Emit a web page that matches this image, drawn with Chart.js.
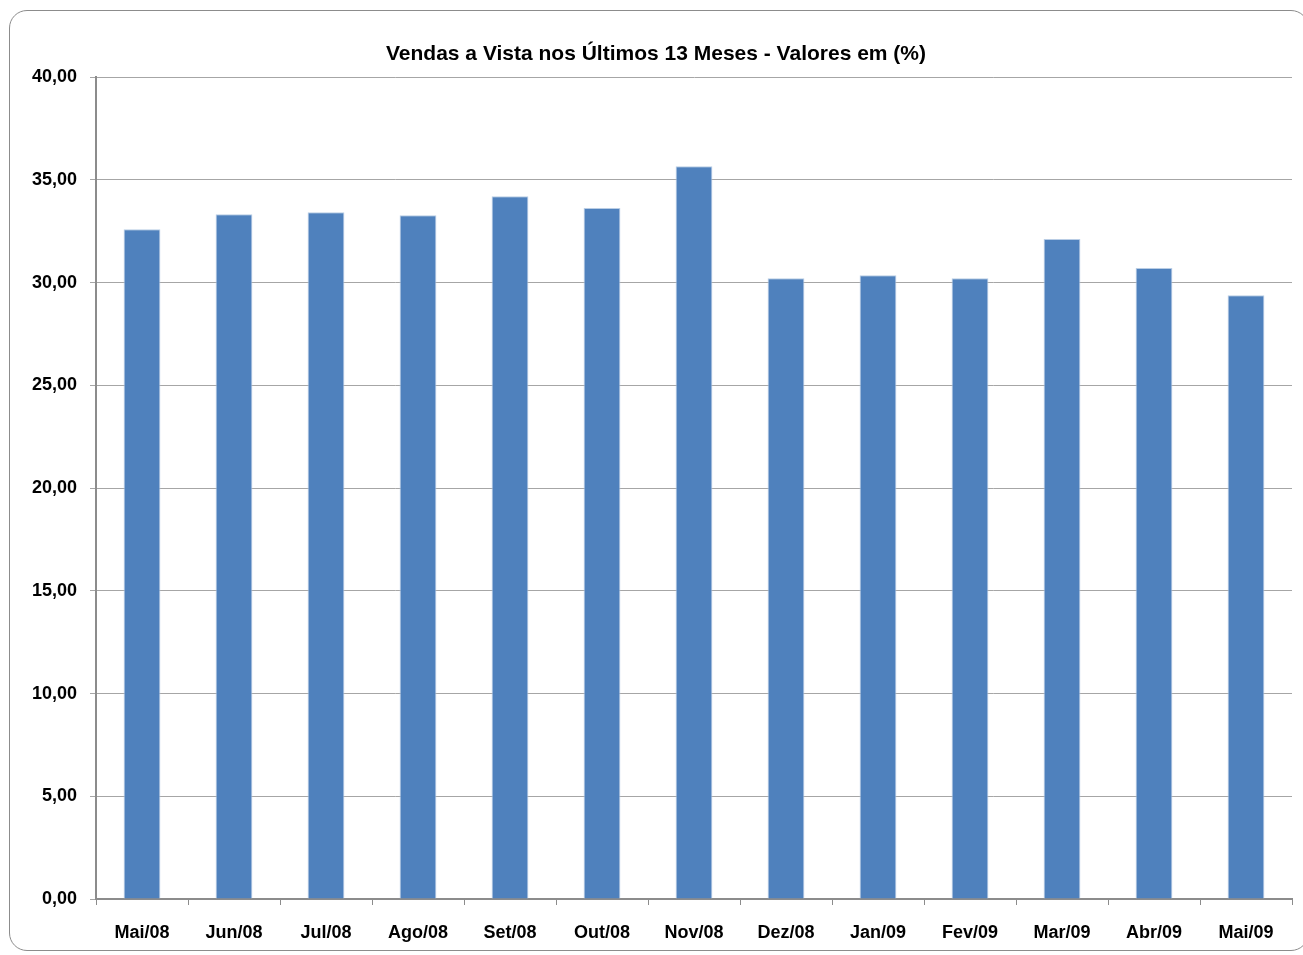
<!doctype html>
<html lang="pt">
  <head>
    <meta charset="utf-8">
    <title>Vendas a Vista nos Últimos 13 Meses</title>
    <style>
      * { margin: 0; padding: 0; }
      body { width: 1303px; height: 955px; background: #fff; overflow: hidden; position: relative; }
      .frame {
        position: absolute; left: 9px; top: 10px; width: 1300px; height: 941px;
        border: 1.5px solid #8c8c8c; border-radius: 18px; box-sizing: border-box;
      }
      #myChart { position: absolute; left: 0; top: 0; }
    </style>
  </head>
  <body>
    <div class="frame"></div>
    <canvas id="myChart" width="1303" height="955"></canvas>
    <script src="https://cdn.jsdelivr.net/npm/chart.js/dist/chart.umd.min.js"></script>
    <script>
// data
const months = ['Mai/08', 'Jun/08', 'Jul/08', 'Ago/08', 'Set/08', 'Out/08', 'Nov/08',
                'Dez/08', 'Jan/09', 'Fev/09', 'Mar/09', 'Abr/09', 'Mai/09'];
const vendasVista = [32.60, 33.33, 33.43, 33.28, 34.21, 33.63, 35.67,
                     30.22, 30.36, 30.22, 32.12, 30.71, 29.39];
const yTicks = { min: 0, max: 40, step: 5 };

const fontFamily = '"Liberation Sans", Arial, sans-serif';

const data = {
  labels: months,
  datasets: [{
    data: vendasVista,
    backgroundColor: '#4F81BD',
    borderColor: '#B9CDE5',
    borderWidth: 1,
    barPercentage: 0.4,
    categoryPercentage: 1.0
  }]
};

const config = {
  type: 'bar',
  data,
  options: {
    responsive: false,
    animation: false,
    layout: { padding: { top: 0, left: 20, right: 11, bottom: 8 } },
    plugins: {
      legend: { display: false },
      tooltip: { enabled: false },
      title: {
        display: true,
        text: 'Vendas a Vista nos Últimos 13 Meses - Valores em (%)',
        color: '#000',
        font: { family: fontFamily, size: 21, weight: 'bold' },
        padding: { top: 42, bottom: 10 }
      }
    },
    scales: {
      x: {
        afterFit: s => { s.height = 48; },
        grid: {
          offset: true,
          drawOnChartArea: false,
          drawTicks: true,
          tickLength: 6,
          color: '#8c8c8c'
        },
        border: { color: '#8c8c8c', width: 2 },
        ticks: {
          color: '#000',
          padding: 17,
          font: { family: fontFamily, size: 18, weight: 'bold' }
        }
      },
      y: {
        min: yTicks.min,
        max: yTicks.max,
        afterFit: s => { s.width = 76; },
        grid: { color: '#a6a6a6', lineWidth: 1, tickLength: 6 },
        border: { color: '#8c8c8c', width: 2 },
        ticks: {
          stepSize: yTicks.step,
          color: '#000',
          padding: 13,
          font: { family: fontFamily, size: 18, weight: 'bold' },
          callback: v => v.toFixed(2).replace('.', ',')
        }
      }
    }
  }
};

const myChart = new Chart(document.getElementById('myChart'), config);
    </script>
  </body>
</html>
